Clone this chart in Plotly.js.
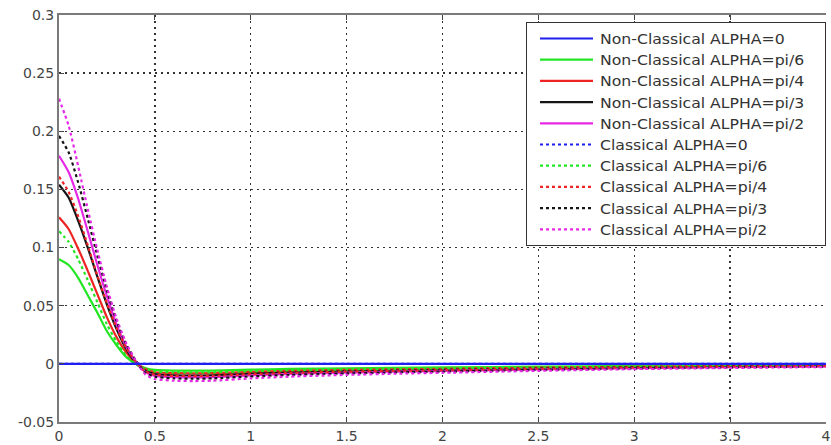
<!DOCTYPE html>
<html>
<head>
<meta charset="utf-8">
<script src="https://cdn.plot.ly/plotly-3.0.1.min.js"></script>
<style>html,body{margin:0;padding:0;background:#fff;}#chart{width:831px;height:445px;}</style>
</head>
<body>
<div id="chart"></div>
<script>
const xVals = [0, 0.05, 0.1, 0.15, 0.2, 0.25, 0.3, 0.35, 0.4, 0.45, 0.5, 0.6, 0.7, 0.8, 1.0, 1.2, 1.5, 1.75, 2, 2.5, 3, 3.5, 4];

const ncAlpha0   = [0,0,0,0,0,0,0,0,0,0,0,0,0,0,0,0,0,0,0,0,0,0,0];
const ncAlphaPi6 = [0.090,0.085,0.074,0.059,0.044,0.028,0.016,0.006,0.000,-0.0035,-0.0052,-0.0058,-0.0059,-0.0058,-0.005,-0.0044,-0.0038,-0.0034,-0.0031,-0.0024,-0.0018,-0.0014,-0.0011];
const ncAlphaPi4 = [0.126,0.116,0.099,0.080,0.060,0.040,0.023,0.010,0.001,-0.0045,-0.0072,-0.008,-0.0081,-0.008,-0.0069,-0.006,-0.0052,-0.0047,-0.0042,-0.0033,-0.0025,-0.0019,-0.0015];
const ncAlphaPi3 = [0.154,0.143,0.123,0.100,0.075,0.051,0.030,0.013,0.001,-0.006,-0.0088,-0.0099,-0.0101,-0.0099,-0.0085,-0.0075,-0.0065,-0.0058,-0.0052,-0.0041,-0.0031,-0.0024,-0.0018];
const ncAlphaPi2 = [0.179,0.165,0.142,0.114,0.085,0.058,0.034,0.015,0.002,-0.007,-0.0103,-0.0115,-0.0117,-0.0115,-0.0099,-0.0087,-0.0075,-0.0067,-0.0061,-0.0047,-0.0036,-0.0028,-0.0021];

const clAlpha0   = [0,0,0,0,0,0,0,0,0,0,0,0,0,0,0,0,0,0,0,0,0,0,0];
const clAlphaPi6 = [0.114,0.105,0.090,0.072,0.053,0.034,0.019,0.007,0.000,-0.0045,-0.0065,-0.0073,-0.0074,-0.0073,-0.0063,-0.0055,-0.0048,-0.0043,-0.0039,-0.003,-0.0023,-0.0018,-0.0014];
const clAlphaPi4 = [0.161,0.148,0.127,0.102,0.076,0.052,0.031,0.014,0.002,-0.0065,-0.0092,-0.0103,-0.0105,-0.0103,-0.0089,-0.0078,-0.0067,-0.006,-0.0055,-0.0043,-0.0032,-0.0025,-0.0019];
const clAlphaPi3 = [0.196,0.182,0.156,0.125,0.093,0.063,0.037,0.017,0.003,-0.0075,-0.011,-0.0125,-0.0127,-0.0125,-0.0108,-0.0095,-0.0082,-0.0073,-0.0066,-0.0052,-0.0039,-0.003,-0.0023];
const clAlphaPi2 = [0.228,0.205,0.170,0.133,0.098,0.066,0.039,0.018,0.003,-0.009,-0.013,-0.0145,-0.0148,-0.0145,-0.0125,-0.011,-0.0095,-0.0085,-0.0077,-0.006,-0.0045,-0.0035,-0.0027];

const seriesNames = [
  "Non-Classical ALPHA=0","Non-Classical ALPHA=pi/6","Non-Classical ALPHA=pi/4","Non-Classical ALPHA=pi/3","Non-Classical ALPHA=pi/2",
  "Classical ALPHA=0","Classical ALPHA=pi/6","Classical ALPHA=pi/4","Classical ALPHA=pi/3","Classical ALPHA=pi/2"
];
const seriesData = [ncAlpha0, ncAlphaPi6, ncAlphaPi4, ncAlphaPi3, ncAlphaPi2, clAlpha0, clAlphaPi6, clAlphaPi4, clAlphaPi3, clAlphaPi2];
const seriesColors = ["#1f1ff0","#22e622","#ee2424","#151515","#e628e6","#1f1ff0","#22e622","#ee2424","#151515","#e628e6"];

const xTickVals = [0,0.5,1,1.5,2,2.5,3,3.5,4];
const xTickText = ["0","0.5","1","1.5","2","2.5","3","3.5","4"];
const yTickVals = [-0.05,0,0.05,0.1,0.15,0.2,0.25,0.3];
const yTickText = ["-0.05","0","0.05","0.1","0.15","0.2","0.25","0.3"];

const traces = seriesData.map((ys, i) => ({
  x: xVals, y: ys, type: 'scatter', mode: 'lines', name: seriesNames[i],
  line: {color: seriesColors[i], width: 2.2, dash: i < 5 ? 'solid' : 'dot', shape: 'spline', smoothing: 0.6}
}));
const order = [1,2,3,4,6,7,8,9,5,0];

const axisCommon = {
  showline: true, linecolor: '#7a7a7a', linewidth: 2,
  ticks: 'inside', ticklen: 5, tickcolor: '#444', tickwidth: 1,
  showgrid: true, gridcolor: '#333', griddash: '2px,4px', gridwidth: 1.3,
  zeroline: false,
  tickfont: {family: 'DejaVu Sans, sans-serif', size: 14, color: '#444'}
};

const layout = {
  width: 831, height: 445,
  margin: {l: 59, r: 5, t: 15, b: 23},
  paper_bgcolor: '#fff', plot_bgcolor: '#fff',
  showlegend: true,
  xaxis: Object.assign({}, axisCommon, {range: [0, 4], tickvals: xTickVals, ticktext: xTickText, mirror: 'ticks'}),
  yaxis: Object.assign({}, axisCommon, {range: [-0.05, 0.3], tickvals: yTickVals, ticktext: yTickText, mirror: false}),
  legend: {
    x: 1.0, y: 0.983, xanchor: 'right', yanchor: 'top',
    bgcolor: '#fff', bordercolor: '#333', borderwidth: 1,
    font: {family: 'DejaVu Sans, sans-serif', size: 14, color: '#333'},
    traceorder: 'normal', itemwidth: 100
  }
};

const plotted = order.map(i => Object.assign({}, traces[i], {legendrank: i + 1}));
Plotly.newPlot('chart', plotted, layout, {staticPlot: true}).then(gd => {
  // lengthen legend line samples and widen legend labels like the reference
  gd.querySelectorAll('.legend .legendlines path').forEach(p => p.setAttribute('d', 'M13,0h53'));
  gd.querySelectorAll('.legend text.legendtext').forEach(t => {
    const w = t.getComputedTextLength();
    t.setAttribute('x', '73');
    t.setAttribute('textLength', (w * 1.12).toFixed(1));
    t.setAttribute('lengthAdjust', 'spacingAndGlyphs');
  });
});
</script>
</body>
</html>
